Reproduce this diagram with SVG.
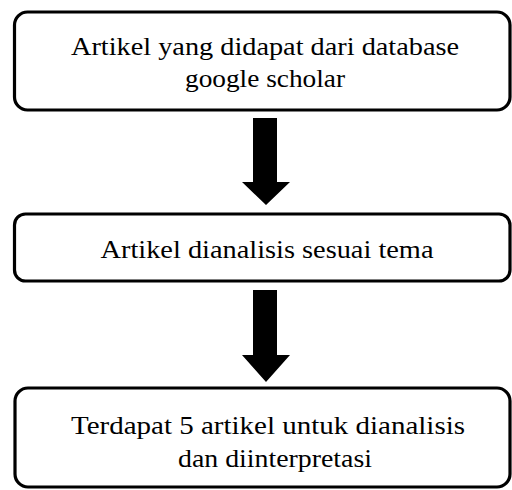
<svg xmlns="http://www.w3.org/2000/svg" width="512" height="490" viewBox="0 0 512 490">
<style>
.box{fill:#fff;stroke:#000;stroke-width:3.2}
.t{font-family:"Liberation Serif","DejaVu Serif",serif;font-size:25px;fill:#000;text-anchor:middle}
.arr{fill:#000}
</style>
<rect width="512" height="490" fill="#fff"/>
<g id="n1">
<rect class="box" x="14.5" y="12" width="495.5" height="98" rx="13"/>
<text class="t" x="265" y="55" textLength="388" lengthAdjust="spacingAndGlyphs">Artikel yang didapat dari database</text>
<text class="t" x="265" y="87" textLength="160" lengthAdjust="spacingAndGlyphs">google scholar</text>
</g>
<g id="n2">
<rect class="box" x="14.5" y="214" width="495.5" height="67" rx="11"/>
<text class="t" x="267" y="258" textLength="333" lengthAdjust="spacingAndGlyphs">Artikel dianalisis sesuai tema</text>
</g>
<g id="n3">
<rect class="box" x="15" y="388" width="495" height="99" rx="13"/>
<text class="t" x="268" y="434" textLength="394" lengthAdjust="spacingAndGlyphs">Terdapat 5 artikel untuk dianalisis</text>
<text class="t" x="275" y="467" textLength="194" lengthAdjust="spacingAndGlyphs">dan diinterpretasi</text>
</g>
<g id="connectors">
<polygon class="arr" points="253,118 277,118 277,182 290,182 266,205 242,182 253,182"/>
<polygon class="arr" points="253,290 277,290 277,355 290,355 266,382 242,355 253,355"/>
</g>
</svg>
